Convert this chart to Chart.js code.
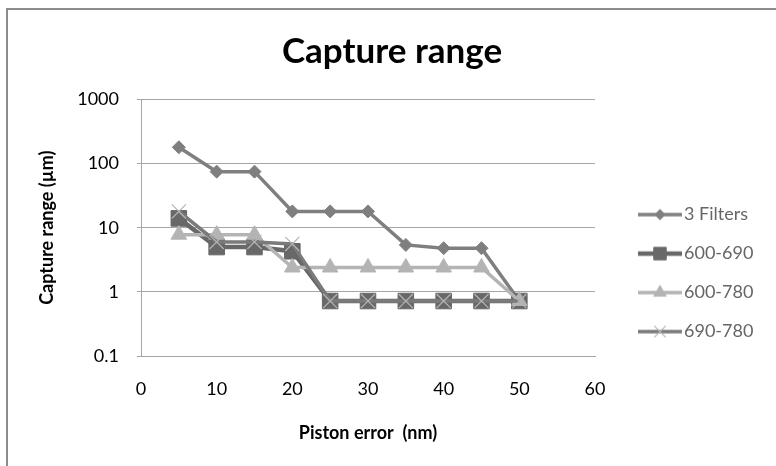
<html>
<head>
<script src="https://cdn.jsdelivr.net/npm/chart.js"></script>
<style>
  body { margin: 0; background: #fff; }
  #frame { position: absolute; left: 6px; top: 8px; width: 800px; height: 500px;
           border-left: 2px solid #8c8c8c; border-top: 2px solid #8c8c8c; }
  #wrap { position: absolute; left: 0; top: 0; width: 776px; height: 466px; }
</style>
</head>
<body>
<div id="frame"></div>
<div id="wrap"><canvas id="rangeChart" width="776" height="466"></canvas></div>
<script>
// piston error (nm) on x, capture range (µm) on a log y axis
var pistonError = [5, 10, 15, 20, 25, 30, 35, 40, 45, 50];
var threeFilters = [180, 75, 75, 18, 18, 18, 5.4, 4.8, 4.8, 0.72];
var band600to690 = [14, 5, 5, 4.3, 0.72, 0.72, 0.72, 0.72, 0.72, 0.72];
var band600to780 = [7.8, 7.8, 7.8, 2.4, 2.4, 2.4, 2.4, 2.4, 2.4, 0.72];
var band690to780 = [18, 6, 6, 5.6, 0.72, 0.72, 0.72, 0.72, 0.72, 0.72];
var seriesNames = ['3 Filters', '600-690', '600-780', '690-780'];
var yTicks = [0.1, 1, 10, 100, 1000];

var FONT = 'Lato';

function points(values) {
  return pistonError.map(function (x, i) { return { x: x, y: values[i] }; });
}

function series(name, values, line, marker, style, radius, width, order) {
  return {
    label: name,
    data: points(values),
    borderColor: line,
    borderWidth: width,
    pointStyle: style,
    pointRadius: radius,
    pointHoverRadius: radius,
    pointBackgroundColor: marker,
    pointBorderColor: marker,
    pointBorderWidth: style === 'crossRot' ? 1.2 : 1,
    tension: 0,
    order: order
  };
}

var datasets = [
  series(seriesNames[0], threeFilters, '#7f7f7f', '#7f7f7f', 'rectRot', 6.5, 3.5, 4),
  series(seriesNames[1], band600to690, '#686868', '#686868', 'rect', 11, 4.5, 3),
  series(seriesNames[2], band600to780, '#b4b4b4', '#b4b4b4', 'triangle', 9, 3.5, 2),
  series(seriesNames[3], band690to780, '#7a7a7a', '#b4b4b4', 'crossRot', 10, 3.5, 1)
];

// little line + marker picture for each legend entry
function swatch(ds) {
  var c = document.createElement('canvas');
  c.width = 73; c.height = 26;
  var g = c.getContext('2d');
  g.strokeStyle = ds.borderColor;
  g.lineWidth = ds.borderWidth;
  g.beginPath(); g.moveTo(29, 13); g.lineTo(73, 13); g.stroke();
  g.fillStyle = ds.pointBackgroundColor;
  g.strokeStyle = ds.pointBorderColor;
  g.lineWidth = ds.pointBorderWidth;
  Chart.helpers.drawPoint(g, {
    pointStyle: ds.pointStyle, radius: ds.pointRadius * 0.8,
    borderWidth: ds.pointBorderWidth, rotation: 0
  }, 51, 13);
  return c;
}
var swatches = datasets.map(swatch);

const ctx = document.getElementById('rangeChart').getContext('2d');
window.rangeChart = new Chart(ctx, {
  type: 'line',
  data: { datasets: datasets },
  options: {
    responsive: false,
    animation: false,
    layout: { padding: { top: 0, bottom: 18, left: 29, right: 21 } },
    plugins: {
      title: {
        display: true,
        text: 'Capture range',
        color: '#000',
        font: { family: FONT, size: 35, weight: 'bold' },
        padding: { top: 31, bottom: 26.5 }
      },
      legend: {
        position: 'right',
        align: 'start',
        maxWidth: 160,
        title: { display: true, text: ' ', font: { family: FONT, size: 18 }, padding: { top: 163, bottom: 0 } },
        labels: {
          usePointStyle: true,
          pointStyleWidth: 59,
          padding: 21,
          color: '#000',
          font: { family: FONT, size: 18 },
          generateLabels: function (chart) {
            return chart.data.datasets.map(function (ds, i) {
              return {
                text: ds.label,
                pointStyle: swatches[i],
                fillStyle: 'transparent',
                strokeStyle: 'transparent',
                lineWidth: 0,
                hidden: !chart.isDatasetVisible(i),
                datasetIndex: i
              };
            });
          }
        }
      },
      tooltip: { enabled: false }
    },
    scales: {
      x: {
        type: 'linear',
        min: 0,
        max: 60,
        ticks: { stepSize: 10, color: '#000', padding: 22, font: { family: FONT, size: 18 } },
        grid: { display: false, drawTicks: false },
        border: { display: true, color: '#a6a6a6', width: 1 },
        title: {
          display: true,
          text: 'Piston error  (nm)',
          color: '#000',
          font: { family: FONT, size: 18, weight: 'bold' },
          padding: { top: 4, bottom: 4 }
        },
        afterFit: function (scale) { scale.height = 92; }
      },
      y: {
        type: 'logarithmic',
        min: 0.1,
        max: 1000,
        afterBuildTicks: function (scale) {
          scale.ticks = yTicks.map(function (v) { return { value: v }; });
        },
        ticks: {
          color: '#000',
          padding: 18,
          font: { family: FONT, size: 18 },
          callback: function (v) { return String(v); }
        },
        grid: { color: '#a6a6a6', lineWidth: 1, tickLength: 4 },
        border: { display: true, color: '#a6a6a6', width: 1 },
        title: {
          display: true,
          text: 'Capture range (µm)',
          color: '#000',
          font: { family: FONT, size: 18, weight: 'bold' },
          padding: { top: 7, bottom: 4 }
        },
        afterFit: function (scale) { scale.width = 112; }
      }
    }
  }
});
</script>
</body>
</html>
